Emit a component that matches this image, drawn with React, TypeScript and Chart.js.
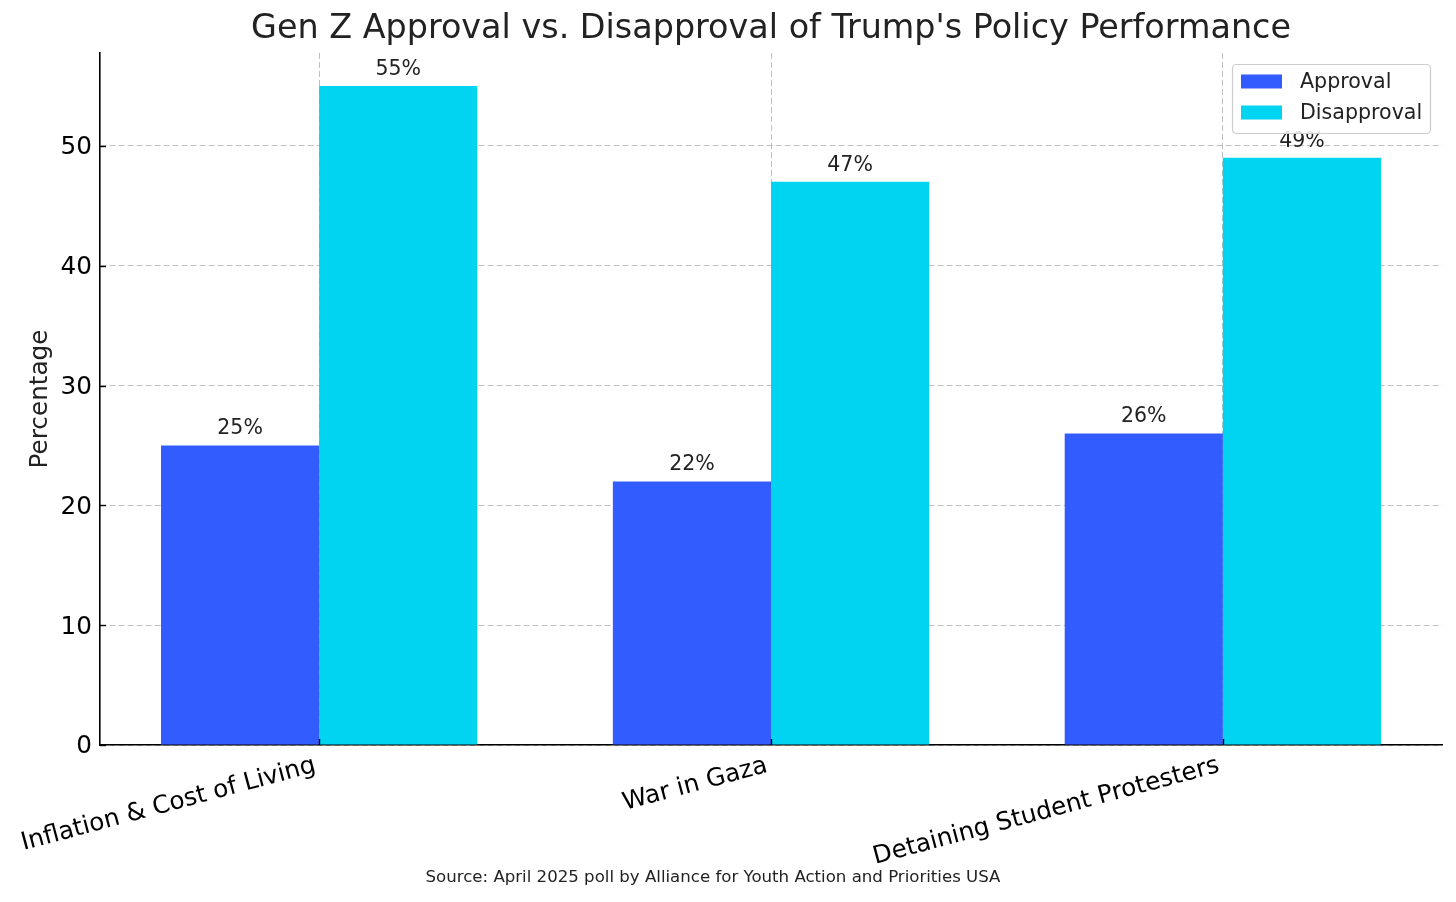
import React, { useEffect, useRef } from "react";
import { Chart, registerables } from "chart.js";

Chart.register(...registerables);

const categories = ["Inflation & Cost of Living", "War in Gaza", "Detaining Student Protesters"];
const approval = [25, 22, 26];
const disapproval = [55, 47, 49];
const seriesNames = ["Approval", "Disapproval"];
const seriesColors = ["#335CFF", "#00D4F0"];
const yTicks = [0, 10, 20, 30, 40, 50];
const titleText = "Gen Z Approval vs. Disapproval of Trump's Policy Performance";
const sourceText = "Source: April 2025 poll by Alliance for Youth Action and Priorities USA";

const FONT = "'DejaVu Sans', sans-serif";

const overlayPlugin = {
  id: "overlay",
  afterDraw(chart: any) {
    const ctx = chart.ctx;
    const area = chart.chartArea;
    const xs = chart.scales.x;
    const ys = chart.scales.y;
    ctx.save();

    // inward tick marks
    ctx.strokeStyle = "#000";
    ctx.lineWidth = 1.4;
    yTicks.forEach((v) => {
      const py = Math.round(ys.getPixelForValue(v)) + 0.5;
      ctx.beginPath();
      ctx.moveTo(area.left, py);
      ctx.lineTo(area.left + 6, py);
      ctx.stroke();
    });
    categories.forEach((_, i) => {
      const px = Math.round(xs.getPixelForValue(i)) + 0.5;
      ctx.beginPath();
      ctx.moveTo(px, area.bottom);
      ctx.lineTo(px, area.bottom - 6);
      ctx.stroke();
    });

    // data labels
    ctx.fillStyle = "#222";
    ctx.font = `20.5px ${FONT}`;
    ctx.textAlign = "center";
    ctx.textBaseline = "alphabetic";
    chart.data.datasets.forEach((ds: any, di: number) => {
      const meta = chart.getDatasetMeta(di);
      meta.data.forEach((el: any, i: number) => {
        const v = ds.data[i].y;
        ctx.fillText(`${v}%`, el.x, el.y - 11);
      });
    });

    // legend
    const lx = area.right - 210;
    const ly = area.top + 11;
    const lw = 198;
    const lh = 69;
    ctx.beginPath();
    ctx.roundRect(lx + 0.5, ly + 0.5, lw, lh, 4);
    ctx.fillStyle = "rgba(255,255,255,0.85)";
    ctx.fill();
    ctx.strokeStyle = "#cccccc";
    ctx.lineWidth = 1.2;
    ctx.stroke();
    ctx.font = `20.6px ${FONT}`;
    ctx.textAlign = "left";
    ctx.textBaseline = "middle";
    seriesNames.forEach((name, i) => {
      const cy = ly + 17.5 + i * 31;
      ctx.fillStyle = seriesColors[i];
      ctx.fillRect(lx + 9, cy - 7, 41, 14);
      ctx.fillStyle = "#222";
      ctx.fillText(name, lx + 68, cy + 1);
    });

    // title
    ctx.font = `33.4px ${FONT}`;
    ctx.fillStyle = "#222";
    ctx.textAlign = "center";
    ctx.textBaseline = "middle";
    ctx.fillText(titleText, (area.left + area.right) / 2, 29);

    // source
    ctx.font = `16.6px ${FONT}`;
    ctx.fillStyle = "#222";
    ctx.fillText(sourceText, 713, 878);

    ctx.restore();
  },
};

export default function App() {
  const ref = useRef<HTMLCanvasElement>(null);
  useEffect(() => {
    if (!ref.current) return;
    const gridColor = "rgba(170,170,170,0.75)";
    const chart = new Chart(ref.current, {
      type: "bar",
      data: {
        datasets: [
          {
            label: seriesNames[0],
            data: approval.map((v, i) => ({ x: i, y: v })),
            backgroundColor: seriesColors[0],
            borderWidth: 0,
          },
          {
            label: seriesNames[1],
            data: disapproval.map((v, i) => ({ x: i, y: v })),
            backgroundColor: seriesColors[1],
            borderWidth: 0,
          },
        ],
      },
      options: {
        animation: false,
        responsive: false,
        devicePixelRatio: 1,
        layout: { padding: { top: 53, right: 14, left: 0, bottom: 0 } },
        datasets: { bar: { categoryPercentage: 0.7, barPercentage: 1.0 } },
        plugins: {
          legend: { display: false },
          tooltip: { enabled: false },
          title: { display: false },
        },
        scales: {
          x: {
            type: "linear",
            min: -0.485,
            max: 2.485,
            offset: false,
            z: 1,
            afterBuildTicks: (scale: any) => {
              scale.ticks = categories.map((_, i) => ({ value: i }));
            },
            afterFit: (scale: any) => {
              scale.height = 157;
            },
            ticks: {
              autoSkip: false,
              minRotation: 15,
              maxRotation: 15,
              padding: 6,
              labelOffset: -4,
              color: "#000",
              font: { family: FONT, size: 24.7 },
              callback: (v: any) => categories[v] ?? "",
            },
            grid: {
              offset: false,
              color: gridColor,
              lineWidth: 1,
              drawTicks: false,
            },
            border: { display: true, color: "#000", width: 1.6, dash: [6, 3] },
          } as any,
          y: {
            type: "linear",
            min: 0,
            max: 57.75,
            z: 1,
            afterBuildTicks: (scale: any) => {
              scale.ticks = yTicks.map((v) => ({ value: v }));
            },
            afterFit: (scale: any) => {
              scale.width = 100;
            },
            ticks: {
              padding: 8,
              labelOffset: 2,
              color: "#000",
              font: { family: FONT, size: 24.7 },
            },
            grid: {
              color: gridColor,
              lineWidth: 1,
              drawTicks: false,
            },
            border: { display: true, color: "#000", width: 1.6, dash: [6, 3] },
            title: {
              display: true,
              text: "Percentage",
              color: "#222",
              font: { family: FONT, size: 24.7 },
              padding: { top: 26, bottom: 0 },
            },
          } as any,
        },
      } as any,
      plugins: [overlayPlugin],
    });
    return () => chart.destroy();
  }, []);
  return (
    <div style={{ position: "fixed", left: 0, top: 0, width: 1456, height: 902, background: "#fff" }}>
      <canvas ref={ref} width={1456} height={902} style={{ width: 1456, height: 902 }} />
    </div>
  );
}
